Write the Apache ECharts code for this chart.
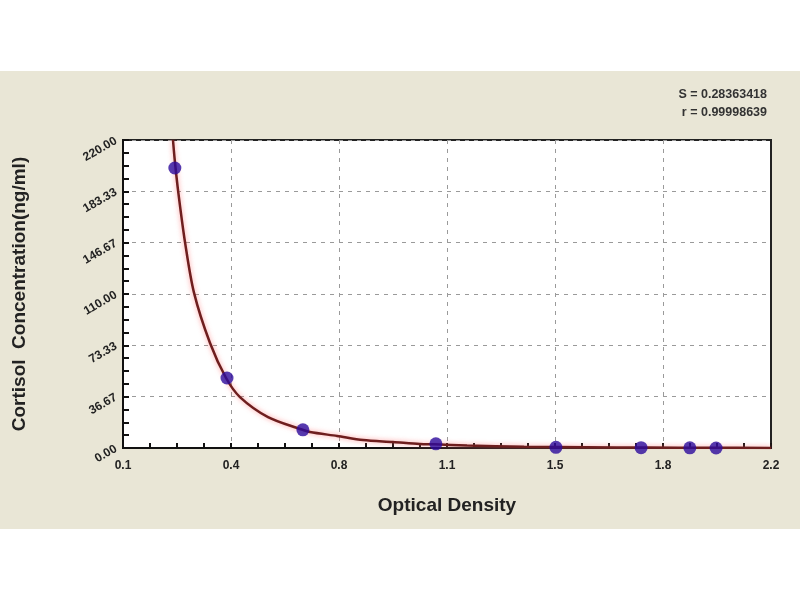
<!DOCTYPE html>
<html>
<head>
  <meta charset="utf-8" />
  <title>Cortisol Standard Curve</title>
  <script src="https://cdn.jsdelivr.net/npm/echarts/dist/echarts.min.js"></script>
  <style>
    html, body { margin: 0; padding: 0; background: #ffffff; }
    #chart { width: 800px; height: 600px; }
  </style>
</head>
<body>
  <div id="chart"></div>
  <script>
    // standard points (optical density, concentration)
    const stdOD = [0.268, 0.437, 0.683, 1.114, 1.503, 1.779, 1.937, 2.022];
    const stdConc = [200, 50, 13, 3, 0.5, 0.2, 0.1, 0];

    // fitted curve
    const curveOD = [0.262, 0.268, 0.279, 0.301, 0.330, 0.382, 0.434, 0.479, 0.570, 0.674,
                     0.706, 0.794, 0.878, 0.975, 1.062, 1.110, 1.215, 1.400, 1.600, 1.800, 2.000, 2.200];
    const curveConc = [220, 205, 183, 147, 111, 75, 50, 36.4, 22.1, 13.6,
                       11.4, 8.6, 5.7, 4.3, 2.9, 2.6, 1.8, 0.9, 0.5, 0.3, 0.15, 0.05];

    const fitText = ['S = 0.28363418', 'r = 0.99998639'];

    const stdPoints = stdOD.map((x, i) => [x, stdConc[i]]);
    const curvePoints = curveOD.map((x, i) => [x, curveConc[i]]);

    const chart = echarts.init(document.getElementById('chart'));
    const labelFont = { fontFamily: 'Liberation Sans, Arial, sans-serif', fontWeight: 'bold', color: '#222' };
    const dash = { color: '#9a9a9a', type: [4, 5], width: 1 };

    chart.setOption({
      backgroundColor: '#ffffff',
      animation: false,
      graphic: [
        { type: 'rect', z: -10, shape: { x: 0, y: 71, width: 800, height: 458 }, style: { fill: '#e9e6d6' } },
        { type: 'text', right: 33, top: 88, style: { text: fitText[0], font: 'bold 12.5px Liberation Sans, Arial', fill: '#333', textAlign: 'right' } },
        { type: 'text', right: 33, top: 106, style: { text: fitText[1], font: 'bold 12.5px Liberation Sans, Arial', fill: '#333', textAlign: 'right' } }
      ],
      grid: {
        left: 123, right: 29, top: 140, bottom: 152,
        outerBoundsMode: 'none', containLabel: false,
        show: true, backgroundColor: '#ffffff', borderColor: '#222', borderWidth: 2
      },
      xAxis: {
        type: 'value', min: 0.1, max: 2.2, interval: 0.35,
        name: 'Optical Density', nameLocation: 'middle', nameGap: 48,
        nameTextStyle: Object.assign({ fontSize: 19 }, labelFont),
        axisLine: { lineStyle: { color: '#111', width: 2 } },
        axisTick: { inside: true, length: 5, lineStyle: { color: '#111', width: 2 } },
        minorTick: { show: true, splitNumber: 4, length: 5, lineStyle: { color: '#111', width: 2 } },
        axisLabel: Object.assign({ fontSize: 12, margin: 12,
          formatter: v => (Math.floor(v * 10 + 1e-6) / 10).toFixed(1) }, labelFont),
        splitLine: { show: true, showMinLine: false, showMaxLine: false, lineStyle: dash }
      },
      yAxis: {
        type: 'value', min: 0, max: 220, interval: 220 / 6,
        name: 'Cortisol  Concentration(ng/ml)', nameLocation: 'middle', nameGap: 94,
        nameTextStyle: Object.assign({ fontSize: 19 }, labelFont),
        axisLine: { lineStyle: { color: '#111', width: 2 } },
        axisTick: { inside: true, length: 6, lineStyle: { color: '#111', width: 2 } },
        minorTick: { show: true, splitNumber: 4, length: 6, lineStyle: { color: '#111', width: 2 } },
        axisLabel: Object.assign({ fontSize: 12, margin: 7, rotate: 30,
          formatter: v => v.toFixed(2) }, labelFont),
        splitLine: { show: true, showMinLine: false, showMaxLine: false, lineStyle: dash }
      },
      series: [
        {
          type: 'line', data: curvePoints, smooth: 0.3, showSymbol: false, z: 2,
          lineStyle: { color: '#6e1e1e', width: 2.5, shadowBlur: 5, shadowColor: 'rgba(255,110,110,0.7)' }
        },
        {
          type: 'scatter', data: stdPoints, symbolSize: 13, z: 3,
          itemStyle: { color: '#2c0a9c' }
        }
      ]
    });
  </script>
</body>
</html>
